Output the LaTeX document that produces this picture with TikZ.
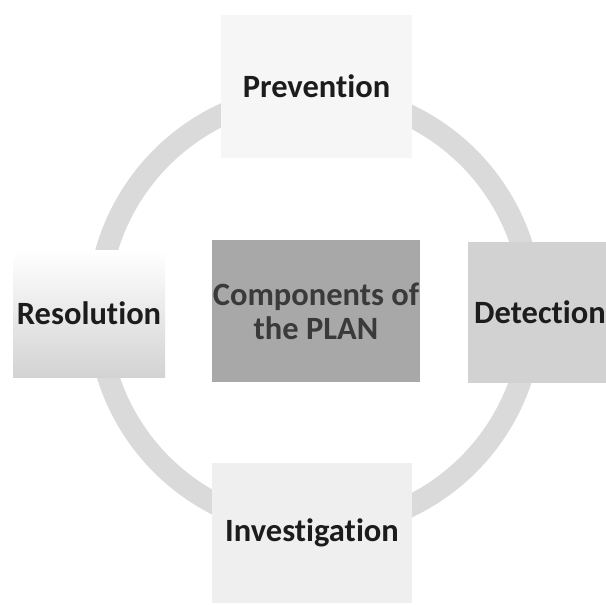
\documentclass[tikz,border=0pt]{standalone}
\usepackage{fontspec}
\setmainfont{Carlito}[Ligatures=NoCommon]
\usetikzlibrary{positioning,backgrounds}

\definecolor{ringgray}{HTML}{DADADA}
\definecolor{hubgray}{HTML}{A8A8A8}
\definecolor{hubtext}{HTML}{3A3A3A}
\definecolor{prevfill}{HTML}{F6F6F6}
\definecolor{detfill}{HTML}{D2D2D2}
\definecolor{invfill}{HTML}{EFEFEF}
\definecolor{resgray}{HTML}{D3D3D3}
\definecolor{textdark}{HTML}{1C1C1C}

\begin{document}
\begin{tikzpicture}[
    x=1pt, y=-1pt,
    box/.style={rectangle, inner sep=0pt, text centered, align=center, text=textdark,
        font=\fontsize{32.5}{34}\selectfont\bfseries},
    ring/.style={draw=ringgray, line width=22pt}
]
\clip (0,0) rectangle (606,605);

% Centre
\node[box, fill=hubgray, text=hubtext, minimum width=208pt, minimum height=142pt] (hub) at (316,311) {Components of\\the PLAN};

% Components
\node[box, fill=prevfill, minimum width=191pt, minimum height=143pt] (prevention) at (316.5,86.5) {Prevention};
\node[box, fill=detfill, minimum width=144pt, minimum height=141pt] (detection) at (540,312.5) {Detection};
\node[box, fill=invfill, minimum width=200pt, minimum height=140pt] (investigation) at (312,533) {Investigation};
\node[box, top color=white, middle color=white!94!black, bottom color=resgray, minimum width=152pt, minimum height=127pt] (resolution) at (89,313.5) {Resolution};

% Ring
\begin{scope}[on background layer]
\fill[white] (0,0) rectangle (606,605);
\draw[ring] ([xshift=-1pt]hub.center) circle (217pt);
\end{scope}

\end{tikzpicture}
\end{document}
